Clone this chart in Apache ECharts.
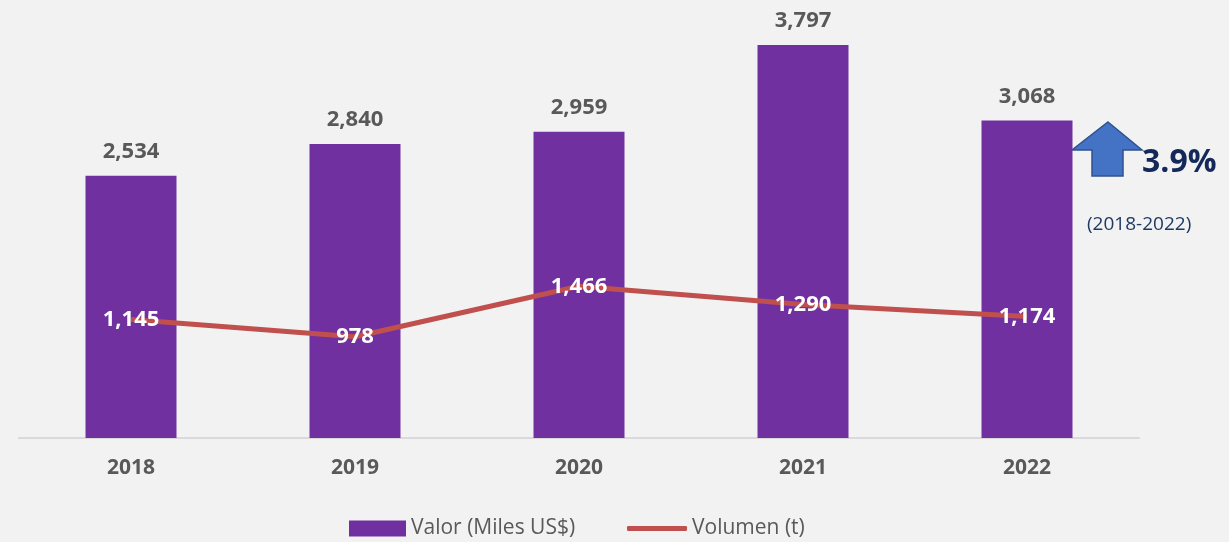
<!DOCTYPE html>
<html>
<head>
<meta charset="utf-8">
<script src="https://cdn.jsdelivr.net/npm/echarts@6/dist/echarts.min.js"></script>
<style>
  html, body { margin: 0; padding: 0; background: #f2f2f2; }
  #chart { width: 1229px; height: 542px; }
</style>
</head>
<body>
<div id="chart"></div>
<script>
const years = ['2018', '2019', '2020', '2021', '2022'];
const valor = [2534, 2840, 2959, 3797, 3068];
const volumen = [1145, 978, 1466, 1290, 1174];
const growthText = '3.9%';
const periodText = '(2018-2022)';

const font = '"Open Sans", "Noto Sans", sans-serif';
const fmt = v => v.toLocaleString('en-US');
const legendText = { fontSize: 21, color: '#595959', fontFamily: font };

const chart = echarts.init(document.getElementById('chart'));
chart.setOption({
  backgroundColor: '#f2f2f2',
  animation: false,
  textStyle: { fontFamily: font },
  grid: { left: 19, right: 90, top: 24, bottom: 104 },
  legend: [
    {
      left: 349,
      top: 518,
      padding: 0,
      itemWidth: 57,
      itemHeight: 16,
      icon: 'rect',
      textStyle: legendText,
      data: ['Valor (Miles US$)']
    },
    {
      left: 627,
      top: 518,
      padding: 0,
      itemWidth: 60,
      itemHeight: 5,
      icon: 'roundRect',
      textStyle: legendText,
      data: ['Volumen (t)']
    }
  ],
  xAxis: {
    type: 'category',
    data: years,
    axisLine: { lineStyle: { color: '#d9d9d9', width: 2 } },
    axisTick: { show: false },
    axisLabel: { fontSize: 21, fontWeight: 'bold', color: '#595959', margin: 20 }
  },
  yAxis: {
    type: 'value',
    min: 0,
    max: 4000,
    show: false,
    splitLine: { show: false }
  },
  series: [
    {
      name: 'Valor (Miles US$)',
      type: 'bar',
      data: valor,
      barWidth: 91,
      itemStyle: { color: '#7030a0' },
      label: {
        show: true,
        position: 'top',
        distance: 13,
        fontSize: 22,
        fontWeight: 'bold',
        color: '#595959',
        formatter: p => fmt(p.value)
      }
    },
    {
      name: 'Volumen (t)',
      type: 'line',
      data: volumen,
      symbol: 'circle',
      symbolSize: 0,
      lineStyle: { color: '#c0504d', width: 5 },
      itemStyle: { color: '#c0504d' },
      label: {
        show: true,
        position: 'inside',
        fontSize: 22,
        fontWeight: 'bold',
        color: '#ffffff',
        formatter: p => fmt(p.value)
      },
      z: 3
    }
  ],
  graphic: [
    {
      type: 'polygon',
      shape: {
        points: [[1108, 122], [1142, 150], [1123, 150], [1123, 176], [1092, 176], [1092, 150], [1072, 150]]
      },
      style: { fill: '#4472c4', stroke: '#2f528f', lineWidth: 1.5 }
    },
    {
      type: 'text',
      left: 1142,
      top: 147,
      style: { text: growthText, fontSize: 32, fontWeight: 'bold', fill: '#14295a', fontFamily: font }
    },
    {
      type: 'text',
      left: 1087,
      top: 215,
      style: { text: periodText, fontSize: 19, fill: '#1f3864', fontFamily: font }
    }
  ]
});
</script>
</body>
</html>
